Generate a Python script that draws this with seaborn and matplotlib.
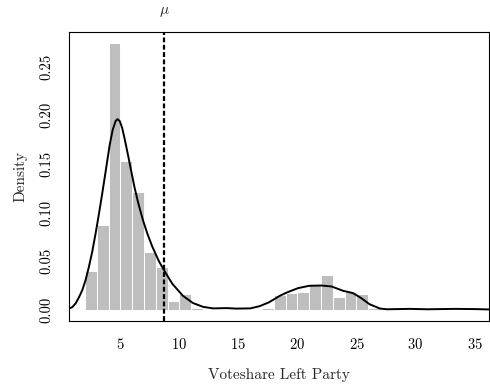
import numpy as np
import pandas as pd
import matplotlib
matplotlib.use("Agg")
import matplotlib.pyplot as plt
import seaborn as sns

# histogram bins (left edge, width 1) and densities
hist_left = [2, 3, 4, 5, 6, 7, 8, 9, 10, 11, 17, 18, 19, 20, 21, 22, 23, 24, 25, 26]
hist_density = [0.040, 0.087, 0.274, 0.153, 0.121, 0.060, 0.044, 0.009, 0.016, 0.002,
                0.002, 0.015, 0.017, 0.019, 0.026, 0.036, 0.013, 0.019, 0.016, 0.002]

# density curve points
curve_x = [0.65, 0.93, 1.21, 1.49, 1.78, 2.06, 2.34, 2.62, 2.91, 3.19, 3.47, 3.75, 4.09,
           4.35, 4.6, 4.75, 4.95, 5.15, 5.36, 5.65, 5.93, 6.2, 6.49, 6.92, 7.3, 7.71,
           8.27, 8.84, 9.4, 10.3, 11.15, 12.0, 12.85, 14.0, 14.8, 16.0, 16.8, 17.6,
           18.5, 19.1, 20.05, 21.0, 22.0, 22.9, 23.85, 24.7, 25.4, 26.1, 27.0, 27.6,
           29.5, 31.0, 33.3, 35.0, 36.25]
curve_y = [0.0015, 0.003, 0.0068, 0.013, 0.0205, 0.031, 0.0445, 0.060, 0.079, 0.099,
           0.120, 0.142, 0.169, 0.185, 0.194, 0.196, 0.194, 0.187, 0.176, 0.159, 0.142,
           0.126, 0.111, 0.092, 0.078, 0.065, 0.050, 0.038, 0.027, 0.0146, 0.0072,
           0.0033, 0.0017, 0.002, 0.0015, 0.0017, 0.004, 0.008, 0.0146, 0.018, 0.0225,
           0.0249, 0.0252, 0.0242, 0.0198, 0.0174, 0.0123, 0.006, 0.0015, 0.0008,
           0.0012, 0.0008, 0.0012, 0.0010, 0.0006]

mu = 8.73

sns.set_style("white")
plt.rcParams['font.family'] = ['cmr10', 'DejaVu Serif']
plt.rcParams['mathtext.fontset'] = 'cm'
plt.rcParams['axes.formatter.use_mathtext'] = True

df_hist = pd.DataFrame({"mid": [l + 0.5 for l in hist_left], "dens": hist_density})
df_curve = pd.DataFrame({"x": curve_x, "y": curve_y})

fig = plt.figure(figsize=(4.9, 3.86), dpi=100)
ax = fig.add_axes([0.1408, 0.169, 0.8578, 0.747])

sns.histplot(data=df_hist, x="mid", weights="dens", binwidth=1, binrange=(2, 27),
             color="#bebebe", edgecolor="white", linewidth=0.7, alpha=1, ax=ax, zorder=1)
sns.lineplot(data=df_curve, x="x", y="y", color="black", lw=1.4, ax=ax, zorder=3)
ax.lines[-1].set_solid_joinstyle("round")
ax.axvline(mu, color="black", lw=1.6, dashes=(2.2, 1.1), zorder=4)
ax.text(mu, 1.07, r"$\mu$", transform=ax.get_xaxis_transform(), ha="center",
        va="center", fontsize=11)

ax.set_xlim(0.65, 36.25)
ax.set_ylim(-0.011, 0.285)
ax.set_xticks([5, 10, 15, 20, 25, 30, 35])
ax.set_yticks([0.0, 0.05, 0.10, 0.15, 0.20, 0.25])
ax.set_yticklabels(["0.00", "0.05", "0.10", "0.15", "0.20", "0.25"])
ax.tick_params(direction="out", length=5, width=0.8, labelsize=10.5, colors="black")
ax.tick_params(axis="x", pad=7)
ax.tick_params(axis="y", pad=6)
plt.setp(ax.get_yticklabels(), rotation=90, va="center")
for s in ax.spines.values():
    s.set_color("black")
    s.set_linewidth(0.8)
ax.set_xlabel("Voteshare Left Party", fontsize=11, labelpad=11)
ax.set_ylabel("Density", fontsize=11, labelpad=9)

fig.savefig("out.png", dpi=100)
